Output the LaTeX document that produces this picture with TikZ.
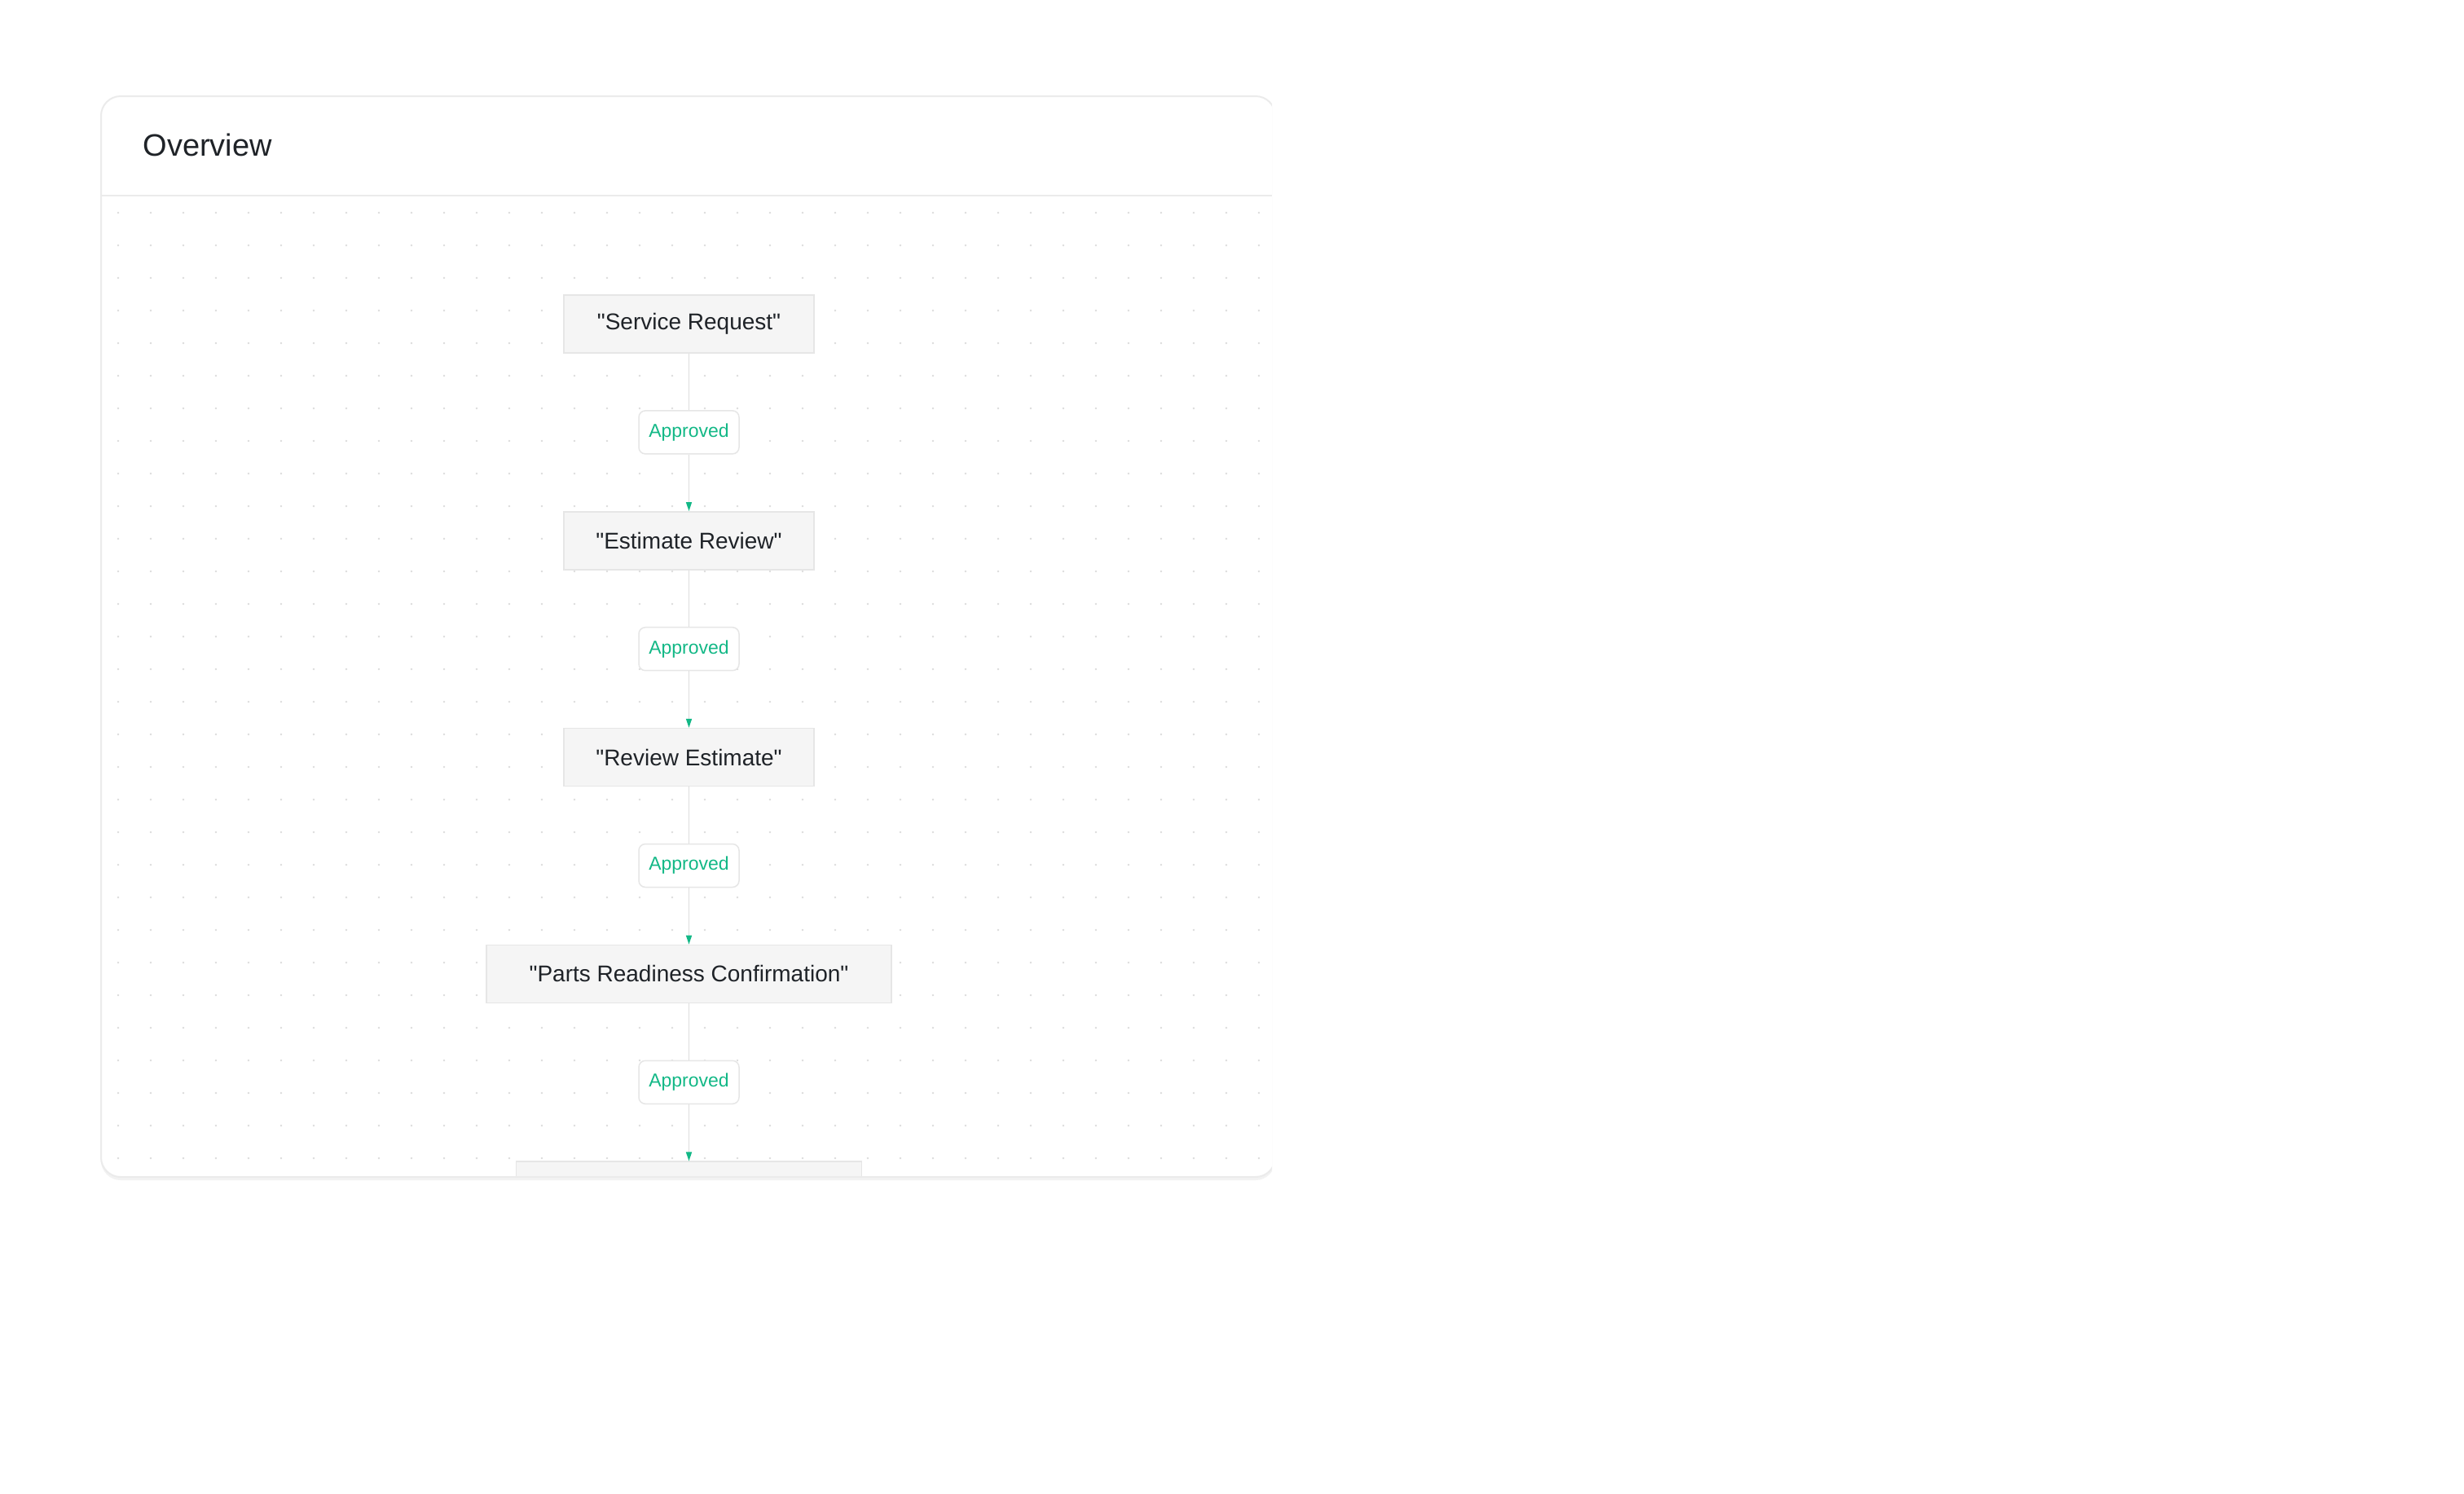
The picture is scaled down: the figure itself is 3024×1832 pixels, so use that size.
\documentclass[tikz,border=0pt]{standalone}
\usepackage{fontspec}
\setmainfont{Liberation Sans}
\usepackage{xcolor}
\usepackage{tikz}
\usetikzlibrary{positioning}
\usetikzlibrary{arrows.meta}
\definecolor{inkdark}{HTML}{1F2328}
\definecolor{okgreen}{HTML}{12B886}
\definecolor{edgegray}{HTML}{DDDDDD}
\definecolor{boxfill}{HTML}{F5F5F5}
\definecolor{boxline}{HTML}{E6E6E6}
\definecolor{cardline}{HTML}{EBEBEB}
\definecolor{dotgray}{HTML}{DCDCDC}
\newcommand{\qtd}[1]{\textquotedbl#1\textquotedbl}
\tikzset{>={Triangle[length=11pt,width=7pt,color=okgreen]}}
\tikzset{
    stage/.style={draw=boxline, line width=1.5pt, fill=boxfill, text=inkdark,
        minimum width=307pt, minimum height=71pt, font=\fontsize{28}{34}\selectfont},
    verdict/.style={draw=boxline, line width=1.5pt, fill=white, rounded corners=8pt,
        text=okgreen, minimum width=123pt, minimum height=53pt, font=\fontsize{23}{28}\selectfont},
    link/.style={draw=edgegray, line width=1.5pt}
}

\begin{document}
\begin{tikzpicture}[x=1pt, y=-1pt, node distance=132.9pt, on grid]
    \useasboundingbox (0,0) rectangle (3024,1832);
    \begin{scope}
        \clip (0,0) rectangle (1561,1832);
        % card
        \fill[black!5, rounded corners=24pt] (124,121) rectangle (1565,1448);
        \fill[white, rounded corners=24pt] (124,118) rectangle (1565,1444);
        \begin{scope}
            \clip[rounded corners=24pt] (124,118) rectangle (1565,1444);
            \foreach \i in {0,...,35}
                \foreach \j in {0,...,29}
                    \fill[dotgray] (145+40*\i, 261+40*\j) circle (1.4pt);
            \node[stage] (request) at (845.5,397.5) {\qtd{Service Request}};
            \node[verdict, below=of request] (ok1) {Approved};
            \node[stage, below=of ok1] (estimate) {\qtd{Estimate Review}};
            \node[verdict, below=of estimate] (ok2) {Approved};
            \node[stage, below=of ok2] (review) {\qtd{Review Estimate}};
            \node[verdict, below=of review] (ok3) {Approved};
            \node[stage, below=of ok3, minimum width=497pt] (parts) {\qtd{Parts Readiness Confirmation}};
            \node[verdict, below=of parts] (ok4) {Approved};
            \node[stage, below=of ok4, minimum width=424pt] (nextstage) {};
            \path[link]
            (request) edge (ok1)
            (ok1) edge[->] (estimate)
            (estimate) edge (ok2)
            (ok2) edge[->] (review)
            (review) edge (ok3)
            (ok3) edge[->] (parts)
            (parts) edge (ok4)
            (ok4) edge[->] (nextstage);
        \end{scope}
        \draw[cardline, line width=2pt, rounded corners=24pt] (124,118) rectangle (1565,1444);
        \draw[cardline, line width=2pt] (124,240) -- (1561,240);
        \node[anchor=west, text=inkdark, font=\fontsize{38}{46}\selectfont] (title) at (172,178) {Overview};
    \end{scope}
\end{tikzpicture}
\end{document}
